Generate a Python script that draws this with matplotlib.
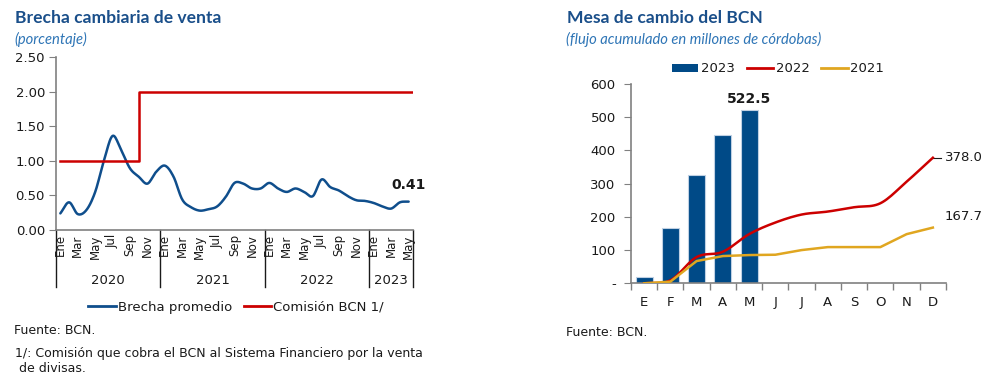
import matplotlib
matplotlib.use("Agg")
import matplotlib.pyplot as plt
from matplotlib.lines import Line2D
from matplotlib.patches import Patch
import matplotlib.transforms as mtransforms
import numpy as np

# ---------------- Data: left chart ----------------
years_left = ["2020", "2021", "2022", "2023"]
months_per_year = [12, 12, 12, 5]
month_names = ["Ene", "Feb", "Mar", "Abr", "May", "Jun", "Jul", "Ago", "Sep", "Oct", "Nov", "Dic"]
brecha = [0.24, 0.40, 0.23, 0.29, 0.55, 1.00, 1.36, 1.15, 0.89, 0.77, 0.67, 0.84,
          0.93, 0.77, 0.44, 0.33, 0.28, 0.30, 0.34, 0.48, 0.68, 0.67, 0.60, 0.60,
          0.68, 0.60, 0.55, 0.60, 0.55, 0.49, 0.73, 0.62, 0.57, 0.49, 0.43, 0.42,
          0.39, 0.34, 0.31, 0.40, 0.41]
comision = [1.0] * 9 + [2.0] * 32
brecha_last_label = "0.41"

# ---------------- Data: right chart ----------------
meses = ["E", "F", "M", "A", "M", "J", "J", "A", "S", "O", "N", "D"]
flujo_2023 = [20, 165, 327, 447, 522.5]
flujo_2022 = [0, 9, 79, 95, 148, 183, 207, 216, 229, 241, 306, 378.0]
flujo_2021 = [0, 5, 67, 82, 85, 86, 100, 109, 109, 109, 148, 167.7]

# ---------------- Style ----------------
BLUE_LINE = "#0F4E8C"
BLUE_BAR = "#004A87"
RED = "#CC0000"
GOLD = "#E0A620"
TITLE_C = "#1A4F8A"
SUB_C = "#2E75B6"
GRAY = "#808080"
TXT = "#1A1A1A"


def smooth(xs, ys, k=12):
    """Catmull-Rom curve through the given points (drawing only)."""
    xs = np.asarray(xs, float)
    ys = np.asarray(ys, float)
    px = np.concatenate([[2 * xs[0] - xs[1]], xs, [2 * xs[-1] - xs[-2]]])
    py = np.concatenate([[2 * ys[0] - ys[1]], ys, [2 * ys[-1] - ys[-2]]])
    ox, oy = [], []
    t = np.linspace(0, 1, k, endpoint=False)
    for i in range(1, len(px) - 2):
        for arr, out in ((px, ox), (py, oy)):
            p0, p1, p2, p3 = arr[i - 1], arr[i], arr[i + 1], arr[i + 2]
            out.extend(0.5 * ((2 * p1) + (-p0 + p2) * t
                              + (2 * p0 - 5 * p1 + 4 * p2 - p3) * t ** 2
                              + (-p0 + 3 * p1 - 3 * p2 + p3) * t ** 3))
    ox.append(xs[-1])
    oy.append(ys[-1])
    return np.array(ox), np.array(oy)


W, H = 1003, 389
fig = plt.figure(figsize=(W / 100, H / 100), dpi=100)
fig.patch.set_facecolor("white")


def px_ax(x0, y0, x1, y1):
    return fig.add_axes([x0 / W, 1 - y1 / H, (x1 - x0) / W, (y1 - y0) / H])


def ftext(x, y, s, **kw):
    fig.text(x / W, 1 - y / H, s, **kw)


# ---------------- Left chart ----------------
ax1 = px_ax(56, 57, 413, 230)
n = len(brecha)
x = np.arange(n)
sx, sy = smooth(x, brecha)
ax1.plot(sx, sy, color=BLUE_LINE, lw=1.8, solid_capstyle="round")
ax1.plot(np.append(x, n - 0.5), comision + [comision[-1]], color=RED, lw=1.8,
         drawstyle="steps-post")
ax1.set_xlim(-0.5, n - 0.5)
ax1.set_ylim(0, 2.5)
ax1.set_yticks(np.arange(0, 2.51, 0.5))
ax1.set_yticklabels([f"{v:.2f}" for v in np.arange(0, 2.51, 0.5)])
for s in ["top", "right"]:
    ax1.spines[s].set_visible(False)
for s in ["left", "bottom"]:
    ax1.spines[s].set_color(GRAY)
    ax1.spines[s].set_linewidth(1.2)
ax1.tick_params(axis="y", direction="out", length=5, color=GRAY, labelsize=9.5,
                labelcolor=TXT, pad=3)
ax1.tick_params(axis="x", length=0, labelsize=8.5, labelcolor=TXT, pad=3)
ticks = []
labels = []
i = 0
for yi, nm in enumerate(months_per_year):
    for m in range(nm):
        if m % 2 == 0:
            ticks.append(i)
            labels.append(month_names[m])
        i += 1
ax1.set_xticks(ticks)
ax1.set_xticklabels(labels, rotation=90, va="top")
trans = mtransforms.blended_transform_factory(ax1.transData, ax1.transAxes)
bounds = [-0.5]
for nm in months_per_year:
    bounds.append(bounds[-1] + nm)
for b in bounds:
    ax1.plot([b, b], [0, -0.33], transform=trans, color=TXT, lw=1.0, clip_on=False)
for k, yr in enumerate(years_left):
    c = (bounds[k] + bounds[k + 1]) / 2
    ax1.text(c, -0.29, yr, transform=trans, ha="center", va="center",
             fontsize=9.5, color=TXT)
ax1.text(n - 1, brecha[-1] + 0.14, brecha_last_label, ha="center", va="bottom",
         fontsize=10, fontweight="bold", color=TXT)

leg_handles = [Line2D([], [], color=BLUE_LINE, lw=2), Line2D([], [], color=RED, lw=2)]
fig.legend(leg_handles, ["Brecha promedio", "Comisión BCN 1/"], ncol=2,
           loc="center", bbox_to_anchor=(236 / W, 1 - 307 / H), frameon=False,
           fontsize=9.5, handlelength=2.1, handletextpad=0.15, columnspacing=0.9,
           labelcolor=TXT)

ftext(15, 18, "Brecha cambiaria de venta", fontsize=12.6, fontweight="bold",
      color=TITLE_C, family="Lato", va="center")
ftext(14, 39, "(porcentaje)", fontsize=10.6, style="italic", color=SUB_C,
      family="Lato", va="center")
ftext(14, 331, "Fuente: BCN.", fontsize=9, color=TXT, va="center")
ftext(15, 353, "1/: Comisión que cobra el BCN al Sistema Financiero por la venta",
      fontsize=9, color=TXT, va="center")
ftext(15, 369, " de divisas.", fontsize=9, color=TXT, va="center")

# ---------------- Right chart ----------------
ax2 = px_ax(631, 84, 946, 283.3)
xm = np.arange(len(meses))
ax2.bar(np.arange(len(flujo_2023)), flujo_2023, width=0.65, color=BLUE_BAR,
        edgecolor="#BFD0E3", linewidth=0.8, zorder=2)
rx, ry = smooth(xm, flujo_2022)
ax2.plot(rx, ry, color=RED, lw=1.8, zorder=3)
ax2.plot(xm, flujo_2021, color=GOLD, lw=1.8, zorder=3)
ax2.set_xlim(-0.5, len(meses) - 0.5)
ax2.set_ylim(0, 600)
ax2.set_yticks(np.arange(0, 601, 100))
ax2.set_yticklabels(["-"] + [str(v) for v in range(100, 601, 100)])
for s in ["top", "right"]:
    ax2.spines[s].set_visible(False)
for s in ["left", "bottom"]:
    ax2.spines[s].set_color(GRAY)
    ax2.spines[s].set_linewidth(1.2)
ax2.tick_params(axis="y", direction="out", length=5, color=GRAY, labelsize=9.5,
                labelcolor=TXT, pad=6)
ax2.set_xticks(xm)
ax2.set_xticklabels(meses)
ax2.set_xticks(np.arange(-0.5, len(meses), 1), minor=True)
ax2.tick_params(axis="x", which="major", length=0, labelsize=9.5, labelcolor=TXT, pad=9)
ax2.tick_params(axis="x", which="minor", direction="out", length=5, color=GRAY, width=1.0)

ax2.text(4, flujo_2023[4] + 12, f"{flujo_2023[4]:.1f}", ha="center", va="bottom",
         fontsize=10, fontweight="bold", color=TXT)
ax2.plot([11, 11.3], [flujo_2022[-1], flujo_2022[-1]], color=TXT, lw=0.8, clip_on=False)
ax2.text(11.45, flujo_2022[-1], f"{flujo_2022[-1]:.1f}", ha="left", va="center",
         fontsize=9.5, color=TXT, clip_on=False)
ax2.text(11.45, flujo_2021[-1] + 33, f"{flujo_2021[-1]:.1f}", ha="left", va="center",
         fontsize=9.5, color=TXT, clip_on=False)

leg2_handles = [Patch(facecolor=BLUE_BAR, edgecolor="none"),
                Line2D([], [], color=RED, lw=2), Line2D([], [], color=GOLD, lw=2)]
fig.legend(leg2_handles, ["2023", "2022", "2021"], ncol=3, loc="center",
           bbox_to_anchor=(778 / W, 1 - 69 / H), frameon=False, fontsize=9.5,
           handlelength=2.0, handleheight=0.6, handletextpad=0.2,
           columnspacing=0.9, labelcolor=TXT)

ftext(567, 18, "Mesa de cambio del BCN", fontsize=12.6, fontweight="bold",
      color=TITLE_C, family="Lato", va="center")
ftext(566, 39, "(flujo acumulado en millones de córdobas)", fontsize=10.6,
      style="italic", color=SUB_C, family="Lato", va="center")
ftext(566, 332, "Fuente: BCN.", fontsize=9, color=TXT, va="center")

fig.savefig("out.png", dpi=100, facecolor="white")
